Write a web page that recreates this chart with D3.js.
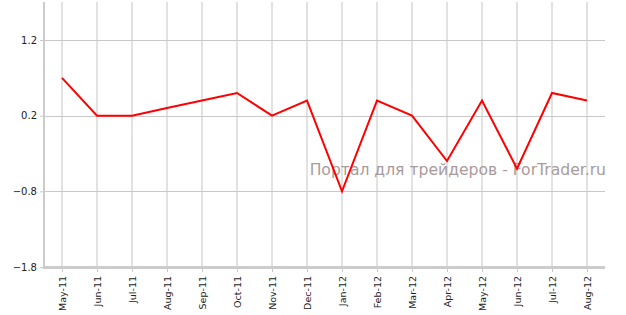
<!DOCTYPE html>
<html>
<head>
<meta charset="utf-8">
<script src="https://cdn.jsdelivr.net/npm/d3@7"></script>
<style>
  body { margin: 0; background: #fff; }
  svg { display: block; }
  .y-label { font: 10px "DejaVu Sans", Verdana, sans-serif; fill: #222; }
  .x-label { font: 9.5px "DejaVu Sans", Verdana, sans-serif; fill: #222; }
  .watermark { font: 15.6px "DejaVu Sans", Verdana, sans-serif; fill: #a89b9b; }
</style>
</head>
<body>
<div id="chart"></div>
<script>
const months = ["May-11", "Jun-11", "Jul-11", "Aug-11", "Sep-11", "Oct-11", "Nov-11", "Dec-11",
    "Jan-12", "Feb-12", "Mar-12", "Apr-12", "May-12", "Jun-12", "Jul-12", "Aug-12"];
const values = [0.7, 0.2, 0.2, 0.3, 0.4, 0.5, 0.2, 0.4, -0.8, 0.4, 0.2, -0.4, 0.4, -0.5, 0.5, 0.4];
const yTicks = [-1.8, -0.8, 0.2, 1.2];

const width = 626;
const height = 315;
const plotLeft = 44, plotRight = 605, plotTop = 2, plotBottom = 267;

const svg = d3.select("#chart")
    .append("svg")
    .attr("width", width)
    .attr("height", height);

const x = d3.scalePoint()
    .domain(months)
    .range([62, 587]);

const y = d3.scaleLinear()
    .domain([-1.8, 1.2])
    .range([plotBottom, 40]);

// vertical grid
svg.selectAll(".vgrid")
    .data(months)
    .enter()
    .append("line")
    .attr("x1", d => x(d))
    .attr("x2", d => x(d))
    .attr("y1", plotTop)
    .attr("y2", plotBottom)
    .attr("stroke", "#e2e2e2")
    .attr("stroke-width", 2);

// horizontal grid
svg.selectAll(".hgrid")
    .data(yTicks)
    .enter()
    .append("line")
    .attr("x1", plotLeft)
    .attr("x2", plotRight)
    .attr("y1", d => Math.round(y(d)) + 0.5)
    .attr("y2", d => Math.round(y(d)) + 0.5)
    .attr("stroke", "#c8c8c8")
    .attr("stroke-width", 1);

// y axis
const yAxis = svg.append("g")
    .attr("transform", `translate(${plotLeft},0)`)
    .call(d3.axisLeft(y).tickValues(yTicks).tickSize(4).tickPadding(3).tickFormat(d3.format(".1f")));
yAxis.select(".domain").remove();
yAxis.selectAll(".tick line").attr("stroke", "#c8c8c8");
yAxis.selectAll(".tick text").attr("class", "y-label");
yAxis.attr("font-size", null).attr("font-family", null);

svg.append("line")
    .attr("x1", plotLeft)
    .attr("x2", plotLeft)
    .attr("y1", plotTop)
    .attr("y2", plotBottom + 1)
    .attr("stroke", "#cccccc")
    .attr("stroke-width", 2);

// x axis
const xAxis = svg.append("g")
    .attr("transform", `translate(0,${plotBottom})`)
    .call(d3.axisBottom(x).tickSize(5).tickPadding(4));
xAxis.select(".domain").remove();
xAxis.selectAll(".tick line").attr("stroke", "#c8c8c8");
xAxis.selectAll(".tick text")
    .attr("class", "x-label")
    .attr("transform", "rotate(-90)")
    .attr("text-anchor", "end")
    .attr("x", -9)
    .attr("y", 0)
    .attr("dy", "0.35em");
xAxis.attr("font-size", null).attr("font-family", null);

svg.append("line")
    .attr("x1", plotLeft - 1)
    .attr("x2", plotRight)
    .attr("y1", plotBottom + 0.5)
    .attr("y2", plotBottom + 0.5)
    .attr("stroke", "#cccccc")
    .attr("stroke-width", 3);

// watermark
svg.append("text")
    .attr("class", "watermark")
    .attr("x", 606)
    .attr("y", 175)
    .attr("text-anchor", "end")
    .text("Портал для трейдеров - ForTrader.ru");

// series
const line = d3.line()
    .x((d, i) => x(months[i]))
    .y(d => y(d));

svg.append("path")
    .datum(values)
    .attr("d", line)
    .attr("fill", "none")
    .attr("stroke", "#ff0000")
    .attr("stroke-width", 2);
</script>
</body>
</html>
